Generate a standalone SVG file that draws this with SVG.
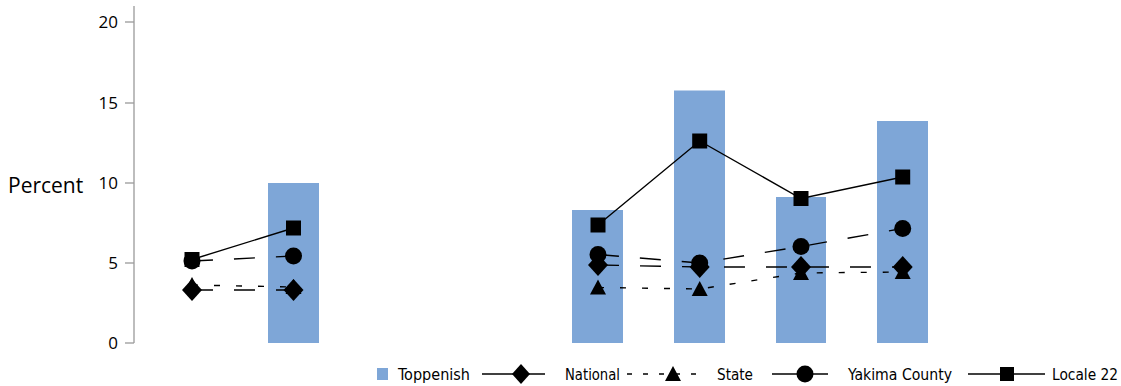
<svg xmlns="http://www.w3.org/2000/svg" width="1121" height="386" viewBox="0 0 1121 386">
<style>
.bar{fill:#7ea6d7}
.axis{stroke:#9a9a9a;stroke-width:1.3;fill:none}
.tick{font-family:"Open Sans",sans-serif;font-size:17px;fill:#000;text-anchor:end}
.ylab{font-family:"Open Sans",sans-serif;font-size:21px;fill:#000}
.leg{font-family:"DejaVu Sans Condensed","Liberation Sans",sans-serif;font-size:16px;fill:#000}
.ln{fill:none;stroke:#000;stroke-width:1.4}
.solid{}
.long{stroke-dasharray:21 21}
.short{stroke-dasharray:6 16}
.mk{fill:#000}
</style>
<defs>
<rect id="sq" x="-7.5" y="-7.5" width="15" height="15"/>
<circle id="ci" r="8.5"/>
<polygon id="di" points="0,-11 10,0 0,11 -10,0"/>
<polygon id="tr" points="0,-8 8,7 -8,7"/>
</defs>
<g id="axis">
<line class="axis" x1="134" y1="6" x2="134" y2="343"/>
<line class="axis" x1="125" y1="22" x2="134" y2="22"/>
<line class="axis" x1="125" y1="103" x2="134" y2="103"/>
<line class="axis" x1="125" y1="183" x2="134" y2="183"/>
<line class="axis" x1="125" y1="263" x2="134" y2="263"/>
<line class="axis" x1="125" y1="343" x2="134" y2="343"/>
<text class="tick" x="118" y="28">20</text>
<text class="tick" x="118" y="109">15</text>
<text class="tick" x="118" y="189">10</text>
<text class="tick" x="118" y="269">5</text>
<text class="tick" x="118" y="349">0</text>
<text class="ylab" x="8" y="193">Percent</text>
</g>
<g id="bars">
<rect class="bar" x="268" y="183" width="51" height="160"/>
<rect class="bar" x="572" y="210" width="51" height="133"/>
<rect class="bar" x="674" y="90.5" width="51" height="252.5"/>
<rect class="bar" x="776" y="197" width="50" height="146"/>
<rect class="bar" x="877" y="121" width="51" height="222"/>
</g>
<g id="connectors">
<polyline class="ln short" points="192,285 293.5,287"/>
<polyline class="ln short" points="598,287.5 699.7,289 801,273 902.7,272"/>
<polyline class="ln long" points="192,290 293.5,290"/>
<polyline class="ln long" points="598,265 699.7,267 801,267 902.7,267"/>
<polyline class="ln long" points="192,261 293.5,256"/>
<polyline class="ln long" points="598,254.5 699.7,263 801,246.5 902.7,228.5"/>
<polyline class="ln solid" points="192,259.5 293.5,228"/>
<polyline class="ln solid" points="598,225 699.7,141 801,198.5 902.7,177"/>
</g>
<g id="state" class="mk">
<use href="#tr" x="192" y="285"/>
<use href="#tr" x="293.5" y="287"/>
<use href="#tr" x="598" y="287.5"/>
<use href="#tr" x="699.7" y="289"/>
<use href="#tr" x="801" y="273"/>
<use href="#tr" x="902.7" y="272"/>
</g>
<g id="national" class="mk">
<use href="#di" x="192" y="290"/>
<use href="#di" x="293.5" y="290"/>
<use href="#di" x="598" y="265"/>
<use href="#di" x="699.7" y="267"/>
<use href="#di" x="801" y="267"/>
<use href="#di" x="902.7" y="267"/>
</g>
<g id="yakima" class="mk">
<use href="#ci" x="192" y="261"/>
<use href="#ci" x="293.5" y="256"/>
<use href="#ci" x="598" y="254.5"/>
<use href="#ci" x="699.7" y="263"/>
<use href="#ci" x="801" y="246.5"/>
<use href="#ci" x="902.7" y="228.5"/>
</g>
<g id="locale22" class="mk">
<use href="#sq" x="192" y="259.5"/>
<use href="#sq" x="293.5" y="228"/>
<use href="#sq" x="598" y="225"/>
<use href="#sq" x="699.7" y="141"/>
<use href="#sq" x="801" y="198.5"/>
<use href="#sq" x="902.7" y="177"/>
</g>
<g id="legend">
<rect class="bar" x="377" y="368" width="11" height="12"/>
<text class="leg" x="398" y="380" textLength="72" lengthAdjust="spacingAndGlyphs">Toppenish</text>
<line class="ln" x1="482" y1="374" x2="545" y2="374"/>
<polygon points="521,364 530,374 521,384 512,374" fill="#000"/>
<text class="leg" x="565" y="380" textLength="55" lengthAdjust="spacingAndGlyphs">National</text>
<line class="ln" x1="627" y1="374" x2="707" y2="374" stroke-dasharray="5 11"/>
<use href="#tr" x="673" y="374"/>
<text class="leg" x="717" y="380" textLength="36" lengthAdjust="spacingAndGlyphs">State</text>
<line class="ln" x1="772" y1="374" x2="828" y2="374"/>
<use href="#ci" x="805" y="374"/>
<text class="leg" x="848" y="380" textLength="104" lengthAdjust="spacingAndGlyphs">Yakima County</text>
<line class="ln" x1="968" y1="374" x2="1045" y2="374"/>
<rect x="1000" y="367" width="14" height="14" fill="#000"/>
<text class="leg" x="1052" y="380" textLength="66" lengthAdjust="spacingAndGlyphs">Locale 22</text>
</g>
</svg>
